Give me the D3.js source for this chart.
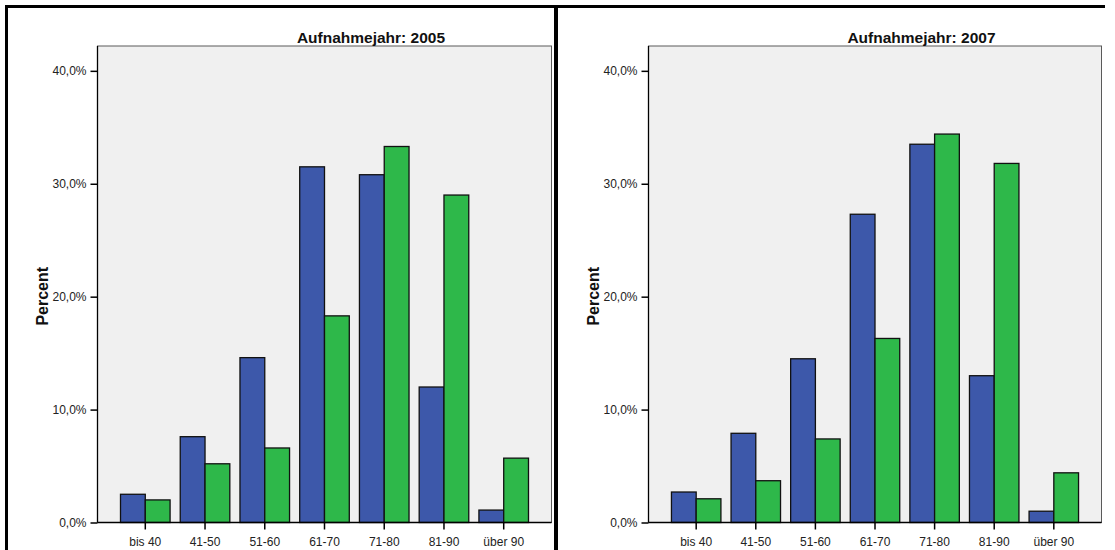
<!DOCTYPE html>
<html>
<head>
<meta charset="utf-8">
<script src="https://cdn.jsdelivr.net/npm/d3@7"></script>
<style>
  html, body { margin: 0; padding: 0; background: #fff; }
  svg { display: block; font-family: Arial, "Liberation Sans", sans-serif; }
</style>
</head>
<body>
<svg id="chart" width="1115" height="550"></svg>
<script>
// ---- data ----
const categories = ["bis 40", "41-50", "51-60", "61-70", "71-80", "81-90", "über 90"];
const seriesNames = ["A", "B"];
const titles = ["Aufnahmejahr: 2005", "Aufnahmejahr: 2007"];
const blue2005  = [2.5, 7.6, 14.6, 31.5, 30.8, 12.0, 1.1];
const green2005 = [2.0, 5.2, 6.6, 18.3, 33.3, 29.0, 5.7];
const blue2007  = [2.7, 7.9, 14.5, 27.3, 33.5, 13.0, 1.0];
const green2007 = [2.1, 3.7, 7.4, 16.3, 34.4, 31.8, 4.4];
const yTicks = [0, 10, 20, 30, 40];
const yTickLabels = ["0,0%", "10,0%", "20,0%", "30,0%", "40,0%"];
const yLabel = "Percent";
const colors = ["#3d58aa", "#2eb84a"];

const panels = [
  { title: titles[0], values: [blue2005, green2005], x0: 97.5, x1: 551.5 },
  { title: titles[1], values: [blue2007, green2007], x0: 648.5, x1: 1101.5 }
];

const svg = d3.select("#chart");
const plotTop = 46, plotBottom = 522.5;

// outer frames
const frame = svg.append("g").attr("stroke", "#000").attr("fill", "none");
frame.append("line").attr("x1", 5).attr("x2", 557).attr("y1", 6.5).attr("y2", 6.5).attr("stroke-width", 3);
frame.append("line").attr("x1", 6.5).attr("x2", 6.5).attr("y1", 5).attr("y2", 550).attr("stroke-width", 3);
frame.append("line").attr("x1", 556).attr("x2", 556).attr("y1", 5).attr("y2", 550).attr("stroke-width", 4);
frame.append("line").attr("x1", 555).attr("x2", 1105).attr("y1", 6.5).attr("y2", 6.5).attr("stroke-width", 3);

panels.forEach(p => {
  const g = svg.append("g");
  const y = d3.scaleLinear().domain([0, 42.2]).range([plotBottom, plotTop]);
  const x = d3.scaleBand().domain(categories).range([p.x0, p.x1])
              .paddingInner(0.17).paddingOuter(0.385);
  const xs = d3.scaleBand().domain(seriesNames).range([0, x.bandwidth()]).padding(0);

  // plot background
  g.append("rect")
    .attr("x", p.x0).attr("y", plotTop)
    .attr("width", p.x1 - p.x0).attr("height", plotBottom - plotTop)
    .attr("fill", "#f0f0f0").attr("stroke", "#5a5a5a").attr("stroke-width", 1);

  // bars
  seriesNames.forEach((s, si) => {
    g.append("g").selectAll("rect")
      .data(categories.map((c, i) => ({ c, v: p.values[si][i] })))
      .join("rect")
      .attr("x", d => x(d.c) + xs(s))
      .attr("width", xs.bandwidth())
      .attr("y", d => y(d.v))
      .attr("height", d => y(0) - y(d.v))
      .attr("fill", colors[si])
      .attr("stroke", "#111")
      .attr("stroke-width", 1.3);
  });

  // y axis
  const yAxis = d3.axisLeft(y).tickValues(yTicks)
    .tickFormat((d, i) => yTickLabels[i]).tickSize(7).tickPadding(4);
  const ya = g.append("g").attr("transform", `translate(${p.x0},0)`).call(yAxis);
  ya.select(".domain").attr("stroke", "#000").attr("stroke-width", 1.3)
    .attr("d", `M0,${plotTop}V${plotBottom}`);
  ya.selectAll(".tick line").attr("stroke", "#000").attr("stroke-width", 1.5);
  ya.selectAll(".tick text").attr("font-size", 12).attr("fill", "#222")
    .attr("font-family", "Arial, 'Liberation Sans', sans-serif");

  // x axis
  const xAxis = d3.axisBottom(x).tickSize(7).tickPadding(8);
  const xa = g.append("g").attr("transform", `translate(0,${plotBottom})`).call(xAxis);
  xa.select(".domain").attr("stroke", "#000").attr("stroke-width", 1.3)
    .attr("d", `M${p.x0},0H${p.x1}`);
  xa.selectAll(".tick line").attr("stroke", "#000").attr("stroke-width", 1.5);
  xa.selectAll(".tick text").attr("font-size", 12).attr("fill", "#222")
    .attr("font-family", "Arial, 'Liberation Sans', sans-serif");

  // title
  g.append("text")
    .attr("x", (p.x0 + p.x1) / 2 + 46.5).attr("y", 43)
    .attr("text-anchor", "middle").attr("font-weight", "bold")
    .attr("font-size", 15.5).attr("fill", "#111")
    .text(p.title);

  // y label
  g.append("text")
    .attr("transform", `translate(${p.x0 - 50},${(plotTop + plotBottom) / 2 + 12}) rotate(-90)`)
    .attr("text-anchor", "middle").attr("font-weight", "bold")
    .attr("font-size", 16).attr("fill", "#111")
    .text(yLabel);
});
</script>
</body>
</html>
